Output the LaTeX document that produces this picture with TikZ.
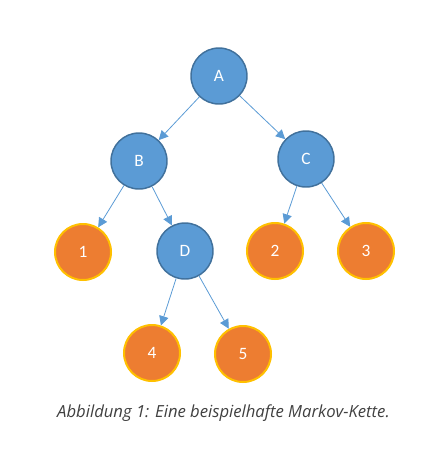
\documentclass[tikz,border=0pt]{standalone}
\usepackage{fontspec}
\setmainfont{Carlito}
\newfontfamily\capfont{Open Sans}
\usetikzlibrary{arrows.meta}
\definecolor{nblue}{HTML}{5B9BD5}
\definecolor{nblueb}{HTML}{41719C}
\definecolor{norange}{HTML}{ED7D31}
\definecolor{ngold}{HTML}{FFC000}
\definecolor{capgray}{HTML}{404040}
\tikzset{
  bnode/.style={circle, fill=nblue, draw=nblueb, line width=1.1pt, minimum size=42pt, inner sep=0pt, text=white, font=\fontsize{13}{15}\selectfont},
  onode/.style={circle, fill=norange, draw=ngold, line width=1.5pt, minimum size=42pt, inner sep=0pt, text=white, font=\fontsize{13}{15}\selectfont},
  edge/.style={draw=nblue, line width=0.6pt, -{Triangle[length=7pt,width=7pt]}}
}
\begin{document}
\begin{tikzpicture}[x=0.75pt,y=-0.75pt]
\useasboundingbox (0,0) rectangle (442,451);
\node[bnode] (A) at (219,76) {A};
\node[bnode] (B) at (139,161) {B};
\node[bnode] (C) at (306,159) {C};
\node[onode] (n1) at (83,252) {1};
\node[bnode] (D) at (185,251) {D};
\node[onode] (n2) at (275,251) {2};
\node[onode] (n3) at (366,251) {3};
\node[onode] (n4) at (152,353) {4};
\node[onode] (n5) at (243,354) {5};
\draw[edge] (A) -- (B);
\draw[edge] (A) -- (C);
\draw[edge] (B) -- (n1);
\draw[edge] (B) -- (D);
\draw[edge] (C) -- (n2);
\draw[edge] (C) -- (n3);
\draw[edge] (D) -- (n4);
\draw[edge] (D) -- (n5);
\node[font=\capfont\fontsize{12.5}{15}\selectfont\itshape, text=capgray] (cap) at (223.5,413) {Abbildung 1: Eine beispielhafte Markov-Kette.};
\end{tikzpicture}
\end{document}
